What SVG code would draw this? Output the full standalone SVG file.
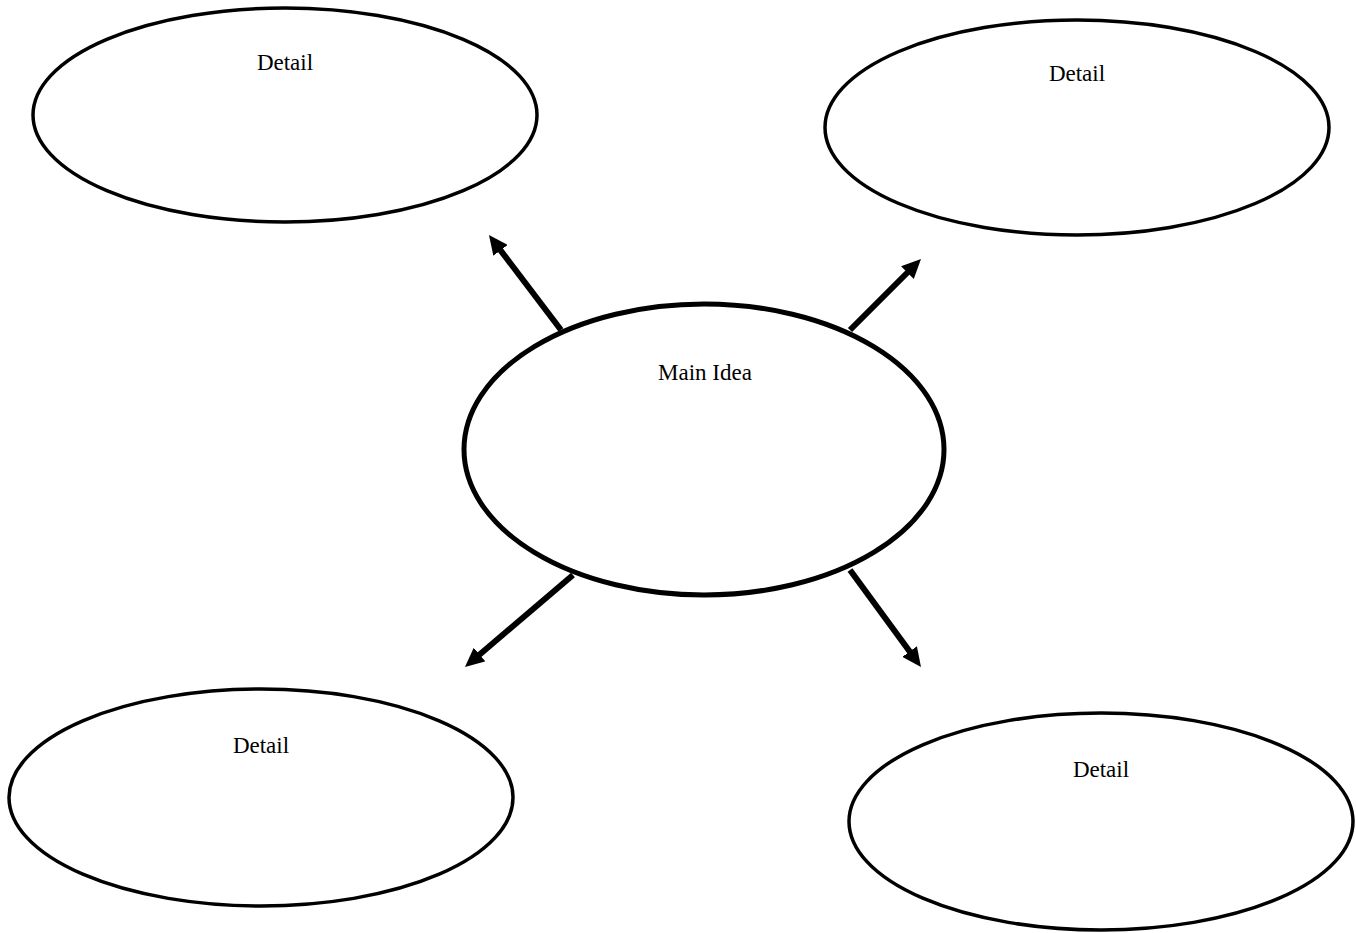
<svg xmlns="http://www.w3.org/2000/svg" width="1356" height="933" viewBox="0 0 1356 933">
<style>
.node{fill:#fff;stroke:#000;stroke-width:3.5}
.main{fill:#fff;stroke:#000;stroke-width:5}
.lbl{font-family:"Liberation Serif","Times New Roman",serif;font-size:23px;fill:#000;text-anchor:middle}
.conn{stroke:#000;stroke-width:6;fill:none;marker-end:url(#ah)}
</style>
<defs>
<marker id="ah" markerUnits="strokeWidth" markerWidth="3.2" markerHeight="3" refX="1.2" refY="1.5" orient="auto" viewBox="0 0 3.2 3">
<path d="M0,0 L3.2,1.5 L0,3 z" fill="#000"/>
</marker>
</defs>
<rect width="1356" height="933" fill="#fff"/>
<g id="connectors">
<line class="conn" x1="561" y1="330" x2="496.2" y2="244.6"/>
<line class="conn" x1="850" y1="330" x2="912.5" y2="267.5"/>
<line class="conn" x1="573" y1="575" x2="474.1" y2="659.2"/>
<line class="conn" x1="850" y1="570" x2="913.9" y2="657.3"/>
</g>
<g id="detail-tl">
<ellipse class="node" cx="285" cy="115" rx="252" ry="107"/>
<text class="lbl" x="285" y="70">Detail</text>
</g>
<g id="detail-tr">
<ellipse class="node" cx="1077" cy="127.5" rx="252" ry="107.5"/>
<text class="lbl" x="1077" y="81">Detail</text>
</g>
<g id="main">
<ellipse class="main" cx="704" cy="449.5" rx="240" ry="145.5"/>
<text class="lbl" x="705" y="380">Main Idea</text>
</g>
<g id="detail-bl">
<ellipse class="node" cx="261" cy="797.5" rx="252" ry="108.5"/>
<text class="lbl" x="261" y="753">Detail</text>
</g>
<g id="detail-br">
<ellipse class="node" cx="1101" cy="821.5" rx="252" ry="108.5"/>
<text class="lbl" x="1101" y="777">Detail</text>
</g>
</svg>
